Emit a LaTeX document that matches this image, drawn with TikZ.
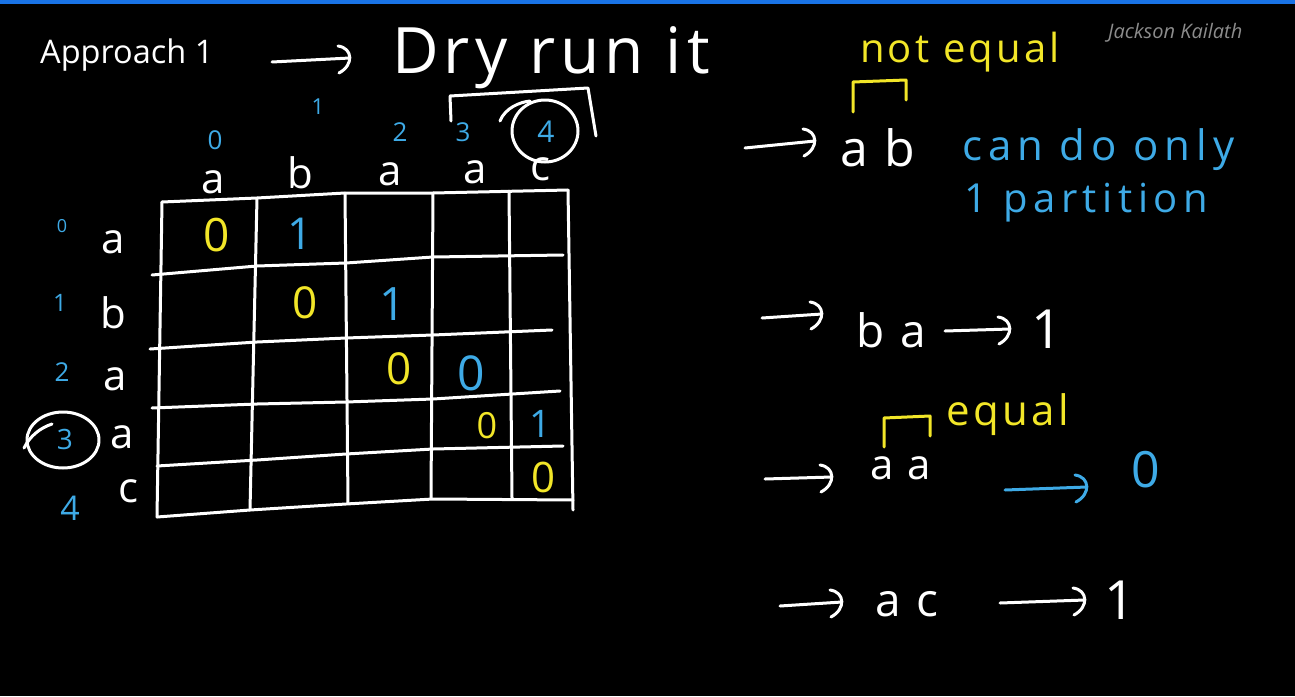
\documentclass[tikz,border=0pt]{standalone}
\usepackage{fontspec}
\setmainfont{Open Sans}
\newfontfamily\hand[LetterSpace=8]{Open Sans}
\newfontfamily\handw[LetterSpace=14]{Open Sans}
\definecolor{hyellow}{RGB}{242,230,40}
\definecolor{hblue}{RGB}{62,170,230}
\definecolor{topbar}{RGB}{25,115,230}
\definecolor{wmark}{RGB}{140,140,140}
\tikzset{
  pen/.style={draw=white, line width=3pt, line cap=round, line join=round},
  ypen/.style={pen, draw=hyellow},
  bpen/.style={pen, draw=hblue},
  pics/arrhead/.style={code={\draw[pen,#1] (-12,-12) .. controls (3,-10) and (4,7) .. (-11,15);}},
  pics/arrhead/.default={},
  hw/.style={text=white, inner sep=0pt, anchor=base},
  hwl/.style={text=white, inner sep=0pt, anchor=base west},
  fs/.style={font={\hand\fontsize{#1}{#1}\selectfont}},
  fsw/.style={font={\handw\fontsize{#1}{#1}\selectfont}},
}
\begin{document}
\begin{tikzpicture}[x=1pt,y=-1pt]
\useasboundingbox (0,0) rectangle (1295,696);
\fill[black] (0,0) rectangle (1295,696);
\fill[topbar] (0,0) rectangle (1295,3.5);

% title
\node[hwl, font={\fontsize{32.5}{36}\selectfont}] (title) at (40,63) {Approach 1};
\node[hwl, text=wmark, font={\itshape\fontsize{20}{22}\selectfont}] (wm) at (1108,38) {Jackson Kailath};
\coordinate (a0s) at (272,62); \coordinate (a0e) at (350,58);
\draw[pen] (a0s) -- (a0e); \pic at (a0e) {arrhead};
\node[hwl, fs=64] (dry) at (392,73) {Dry run it};

% bracket over 3 4 and circle around 4
\draw[pen] (451,121) -- (450,96) -- (588,88) -- (596,136);
\draw[pen] (500,121) .. controls (505,108) and (520,102) .. (530,101);
\draw[pen] (545,131) ellipse [x radius=33, y radius=31];

% column indexes
\node[hw, text=hblue, fs=26] (c0) at (215,149) {0};
\node[hw, text=hblue, fs=22] (c1) at (318,114) {1};
\node[hw, text=hblue, fs=26] (c2) at (400,141) {2};
\node[hw, text=hblue, fs=26] (c3) at (463,141) {3};
\node[hw, text=hblue, fs=30] (c4) at (546,142) {4};
% column letters
\node[hw, fs=42] (ch0) at (213,193) {a};
\node[hw, fs=42] (ch1) at (300,188) {b};
\node[hw, fs=42] (ch2) at (390,185) {a};
\node[hw, fs=42] (ch3) at (475,183) {a};
\node[hw, fs=42] (ch4) at (540,180) {c};

% row indexes and letters
\node[hw, text=hblue, fs=18] (r0) at (62,232) {0};
\node[hw, fs=42] (rl0) at (113,253) {a};
\node[hw, text=hblue, fs=24] (r1) at (60,311) {1};
\node[hw, fs=42] (rl1) at (113,328) {b};
\node[hw, text=hblue, fs=26] (r2) at (62,381) {2};
\node[hw, fs=42] (rl2) at (115,390) {a};
\node[hw, text=hblue, fs=28] (r3) at (65,449) {3};
\node[hw, fs=42] (rl3) at (122,448) {a};
\node[hw, text=hblue, fs=34] (r4) at (70,520) {4};
\node[hw, fs=42] (rl4) at (128,502) {c};
\draw[pen] (63,440) ellipse [x radius=36, y radius=28];
\draw[pen] (24,448) .. controls (30,436) and (40,428) .. (52,424);

% grid
\draw[pen] (162,202) -- (257,198) -- (345,193) -- (433,193) -- (568,190);
\draw[pen] (152,275) -- (257,266) -- (346,263) -- (433,257) -- (563,255);
\draw[pen] (150,349) -- (257,342) -- (346,338) -- (433,335) -- (552,330);
\draw[pen] (152,408) -- (257,404) -- (346,402) -- (433,399) -- (560,391);
\draw[pen] (157,466) -- (257,460) -- (346,454) -- (433,449) -- (563,446);
\draw[pen] (157,517) -- (250,510) -- (346,504) -- (433,499) -- (573,500);
\draw[pen] (162,202) -- (157,517);
\draw[pen] (257,198) -- (250,510);
\draw[pen] (345,193) -- (348,503);
\draw[pen] (433,193) -- (431,498);
\draw[pen] (509,191) -- (512,498);
\draw[pen] (568,190) -- (573,510);

% cell values
\node[hw, text=hyellow, fs=46] (v00) at (217,251) {0};
\node[hw, text=hblue, fs=44] (v01) at (300,249) {1};
\node[hw, text=hyellow, fs=44] (v11) at (305,318) {0};
\node[hw, text=hblue, fs=46] (v12) at (393,320) {1};
\node[hw, text=hyellow, fs=44] (v22) at (399,384) {0};
\node[hw, text=hblue, fs=48] (v23) at (471,390) {0};
\node[hw, text=hyellow, fs=36] (v33) at (487,438) {0};
\node[hw, text=hblue, fs=38] (v34) at (540,437) {1};
\node[hw, text=hyellow, fs=42] (v44) at (543,492) {0};

% right side: ab
\node[hwl, text=hyellow, fs=40] (neq) at (860,62) {not equal};
\draw[ypen] (853,112) -- (853,82) -- (906,80) -- (906,100);
\coordinate (a1s) at (745,148); \coordinate (a1e) at (815,141);
\draw[pen] (a1s) -- (a1e); \pic at (a1e) {arrhead};
\node[hwl, fs=50] (ab) at (840,166) {a b};
\node[hwl, text=hblue, fsw=42] (cdo) at (962,160) {can do only};
\node[hwl, text=hblue, fsw=40] (part) at (964,212) {1 partition};

% ba
\coordinate (a2s) at (762,318); \coordinate (a2e) at (822,314);
\draw[pen] (a2s) -- (a2e); \pic at (a2e) {arrhead};
\node[hwl, fs=46] (ba) at (856,347) {b a};
\coordinate (a3s) at (945,331); \coordinate (a3e) at (1010,329);
\draw[pen] (a3s) -- (a3e); \pic at (a3e) {arrhead};
\node[hw, fs=54] (one1) at (1047,348) {1};

% aa
\node[hwl, text=hyellow, fs=42] (eq) at (946,425) {equal};
\draw[ypen] (884,447) -- (884,418) -- (930,416) -- (930,436);
\coordinate (a4s) at (765,479); \coordinate (a4e) at (832,477);
\draw[pen] (a4s) -- (a4e); \pic at (a4e) {arrhead};
\node[hwl, fs=42] (aa) at (870,479) {a a};
\coordinate (a5s) at (1005,490); \coordinate (a5e) at (1087,487);
\draw[bpen] (a5s) -- (a5e); \pic at (a5e) {arrhead={draw=hblue}};
\node[hw, text=hblue, fs=50] (zero) at (1146,487) {0};

% ac
\coordinate (a6s) at (780,606); \coordinate (a6e) at (842,602);
\draw[pen] (a6s) -- (a6e); \pic at (a6e) {arrhead};
\node[hwl, fs=46] (ac) at (875,616) {a c};
\coordinate (a7s) at (1000,603); \coordinate (a7e) at (1085,600);
\draw[pen] (a7s) -- (a7e); \pic at (a7e) {arrhead};
\node[hw, fs=54] (one2) at (1120,619) {1};
\end{tikzpicture}
\end{document}
